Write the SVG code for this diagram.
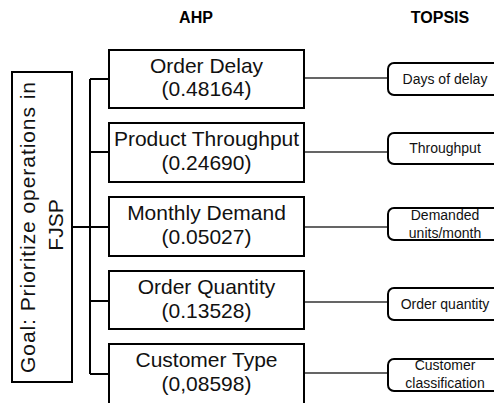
<svg xmlns="http://www.w3.org/2000/svg" width="494" height="403" viewBox="0 0 494 403">
<style>
.box{fill:#fff;stroke:#000;stroke-width:2}
.tbox{fill:#fff;stroke:#000;stroke-width:2}
.t{font-family:"Liberation Sans",Arial,sans-serif;font-size:21px;fill:#111;text-anchor:middle}
.s{font-family:"Liberation Sans",Arial,sans-serif;font-size:14px;fill:#111;text-anchor:middle}
.h{font-family:"Liberation Sans",Arial,sans-serif;font-size:16px;font-weight:bold;fill:#000;text-anchor:middle}
.bus{stroke:#000;stroke-width:2;fill:none}
.link{stroke:#333;stroke-width:1.5;fill:none}
</style>
<rect width="494" height="403" fill="#fff"/>
<text class="h" x="196" y="23">AHP</text>
<text class="h" x="440" y="23">TOPSIS</text>
<g id="connectors">
<path class="bus" d="M72 227H90M90 79V374M90 79H109M90 152H109M90 227H109M90 301H109M90 374H109"/>
<path class="link" d="M304 78H388M304 152H388M304 227H388M304 302H388M304 373H388"/>
</g>
<g id="goal">
<rect class="box" x="12" y="72" width="60" height="310"/>
<text class="t" font-size="22" transform="translate(35,227.5) rotate(-90)" textLength="291" lengthAdjust="spacing">Goal: Prioritize operations in</text>
<text class="t" font-size="22" transform="translate(63,225) rotate(-90)">FJSP</text>
</g>
<g id="ahp1"><rect class="box" x="109" y="50" width="195" height="58"/><text class="t" x="206.5" y="73">Order Delay</text><text class="t" x="206.5" y="96">(0.48164)</text></g>
<g id="ahp2"><rect class="box" x="109" y="123" width="195" height="59"/><text class="t" x="206.5" y="146">Product Throughput</text><text class="t" x="206.5" y="170">(0.24690)</text></g>
<g id="ahp3"><rect class="box" x="109" y="197" width="195" height="59"/><text class="t" x="206.5" y="220">Monthly Demand</text><text class="t" x="206.5" y="244">(0.05027)</text></g>
<g id="ahp4"><rect class="box" x="109" y="271" width="195" height="58"/><text class="t" x="206.5" y="294">Order Quantity</text><text class="t" x="206.5" y="318">(0.13528)</text></g>
<g id="ahp5"><rect class="box" x="109" y="344" width="195" height="60"/><text class="t" x="206.5" y="367">Customer Type</text><text class="t" x="206.5" y="391">(0,08598)</text></g>
<g id="topsis1"><rect class="tbox" x="388" y="63" width="120" height="32" rx="6"/><text class="s" x="445" y="84">Days of delay</text></g>
<g id="topsis2"><rect class="tbox" x="388" y="133" width="120" height="31" rx="6"/><text class="s" x="445" y="153">Throughput</text></g>
<g id="topsis3"><rect class="tbox" x="388" y="208" width="120" height="32" rx="6"/><text class="s" x="445" y="220">Demanded</text><text class="s" x="445" y="238">units/month</text></g>
<g id="topsis4"><rect class="tbox" x="388" y="288" width="120" height="32" rx="6"/><text class="s" x="445" y="309">Order quantity</text></g>
<g id="topsis5"><rect class="tbox" x="388" y="359" width="120" height="32" rx="6"/><text class="s" x="445" y="370">Customer</text><text class="s" x="445" y="388">classification</text></g>
</svg>
